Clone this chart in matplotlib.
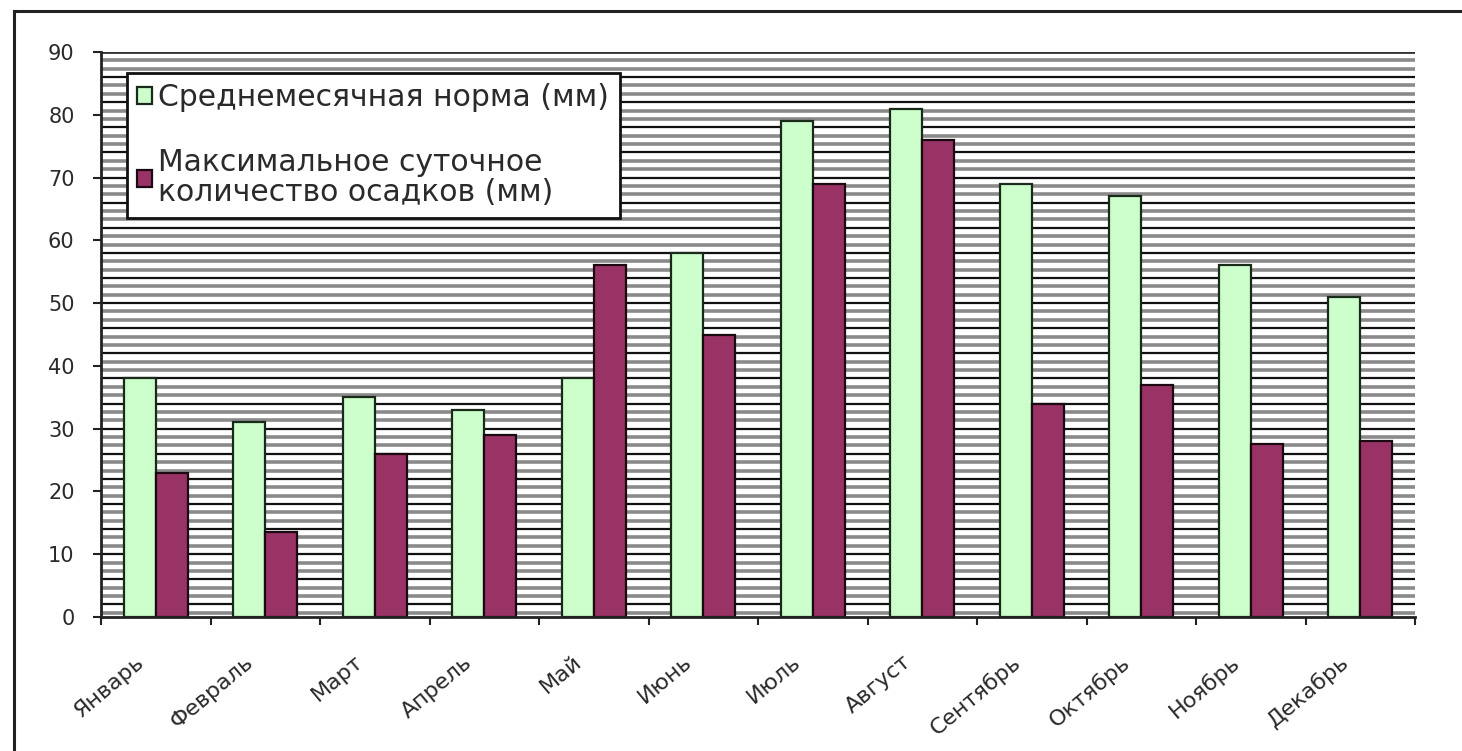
import matplotlib
matplotlib.use("Agg")
import matplotlib.pyplot as plt
import numpy as np
from matplotlib.lines import Line2D

months = ["Январь", "Февраль", "Март", "Апрель", "Май", "Июнь", "Июль",
          "Август", "Сентябрь", "Октябрь", "Ноябрь", "Декабрь"]
norm_mm = [38, 31, 35, 33, 38, 58, 79, 81, 69, 67, 56, 51]
max_daily_mm = [23, 13.5, 26, 29, 56, 45, 69, 76, 34, 37, 27.5, 28]
label_norm = "Среднемесячная норма (мм)"
label_max = "Максимальное суточное\nколичество осадков (мм)"
yticks = [0, 10, 20, 30, 40, 50, 60, 70, 80, 90]

plt.rcParams['font.family'] = ['DejaVu Sans']

W, H = 1462, 751
fig = plt.figure(figsize=(W / 100, H / 100), dpi=100)
fig.patch.set_facecolor('white')

# outer frame
fig.add_artist(Line2D([14 / W, 1.0], [1 - 11 / H, 1 - 11 / H], color='#222222', lw=2.2))
fig.add_artist(Line2D([14 / W, 14 / W], [0, 1 - 11 / H], color='#222222', lw=2.2))

left, right = 101 / W, 1415 / W
bottom, top = 1 - 617 / H, 1 - 52 / H
ax = fig.add_axes([left, bottom, right - left, top - bottom])
ax.set_facecolor('white')

# horizontal stripe pattern of plot area
step = 4 / 3
ys = np.arange(step / 2, 90, step)
for i, y in enumerate(ys):
    if i % 3 == 1:
        ax.axhline(y, color='#111111', lw=1.6, zorder=0.5)
    else:
        ax.axhline(y, color='#8a8a8a', lw=2.6, zorder=0.5)
ax.axhline(90, color='#333333', lw=2.0, zorder=0.5)

x = np.arange(len(months))
w = 0.29
ax.bar(x - w / 2, norm_mm, width=w, color='#CCFFCC', edgecolor='#1a2a1a', lw=1.6,
       label=label_norm, zorder=2)
ax.bar(x + w / 2, max_daily_mm, width=w, color='#993366', edgecolor='#1a0a10', lw=1.6,
       label=label_max, zorder=2)

ax.set_xlim(-0.5, len(months) - 0.5)
ax.set_ylim(0, 90)
ax.set_yticks(yticks)
ax.set_yticklabels([str(v) for v in yticks], fontsize=15, color='#2a2a2a')
ax.tick_params(axis='y', length=6, width=1.5, direction='out', pad=13, color='#222222')

ax.set_xticks(np.arange(-0.5, len(months) - 0.5 + 0.01, 1.0))
ax.set_xticklabels([])
ax.tick_params(axis='x', length=6, width=1.5, direction='out', color='#222222')

for i, m in enumerate(months):
    ax.annotate(m, xy=(i, 0), xycoords=('data', 'axes fraction'),
                xytext=(-15, -25), textcoords='offset points',
                rotation=40, ha='right', va='top', rotation_mode='anchor',
                fontsize=16, color='#2a2a2a')

for s in ['top', 'right']:
    ax.spines[s].set_visible(False)
ax.spines['left'].set_linewidth(2)
ax.spines['bottom'].set_linewidth(2)
ax.spines['left'].set_color('#222222')
ax.spines['bottom'].set_color('#222222')

leg = ax.legend(loc='upper left', bbox_to_anchor=(0.0198, 0.963), borderaxespad=0,
                fontsize=21.5, frameon=True, fancybox=False, framealpha=1,
                edgecolor='#111111', handlelength=0.5, handleheight=0.5,
                handletextpad=0.2, labelspacing=1.2, borderpad=0.35)
leg.get_frame().set_linewidth(2)
for t in leg.get_texts():
    t.set_color('#2a2a2a')
    t.set_linespacing(1.05)
leg.set_zorder(5)

fig.savefig('out.png', dpi=100)
